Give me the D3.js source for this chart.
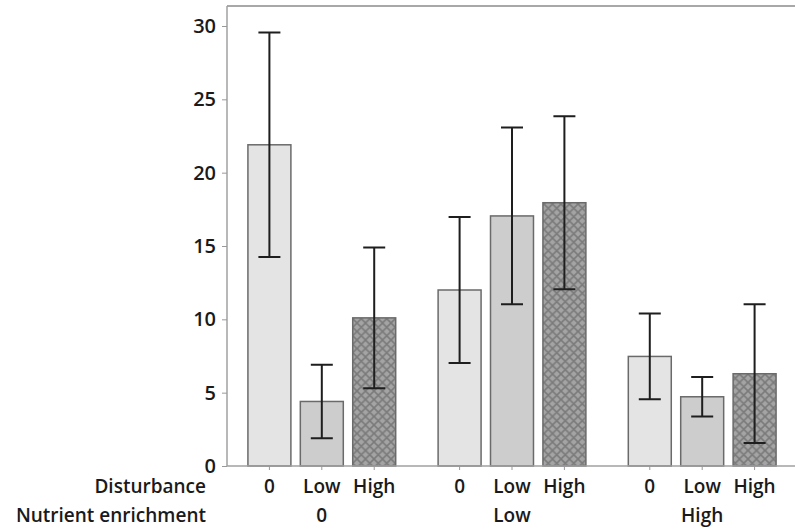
<!DOCTYPE html>
<html>
<head>
<meta charset="utf-8">
<script src="https://cdn.jsdelivr.net/npm/d3@7"></script>
<style>
  html, body { margin: 0; padding: 0; background: #fff; }
  svg { display: block; }
  text { font-family: "Open Sans", "Noto Sans", sans-serif; fill: #1a1a1a; }
</style>
</head>
<body>
<svg id="chart" width="795" height="531"></svg>
<script>
// Nutrient enrichment levels (outer groups) and disturbance levels (bars within a group)
const nutrientLevels = ["0", "Low", "High"];
const disturbanceLevels = ["0", "Low", "High"];

// Mean response per nutrient group, ordered by disturbance level
const meanNutrient0 = [21.9, 4.4, 10.1];
const meanNutrientLow = [12.0, 17.05, 17.95];
const meanNutrientHigh = [7.47, 4.72, 6.29];

// Half-widths of the error bars, same ordering
const errNutrient0 = [7.65, 2.5, 4.8];
const errNutrientLow = [4.97, 6.03, 5.9];
const errNutrientHigh = [2.92, 1.35, 4.73];

const yTicks = [0, 5, 10, 15, 20, 25, 30];

const means = [meanNutrient0, meanNutrientLow, meanNutrientHigh];
const errs = [errNutrient0, errNutrientLow, errNutrientHigh];
const rows = [];
nutrientLevels.forEach((n, i) => {
  disturbanceLevels.forEach((d, j) => {
    rows.push({ nutrient: n, disturbance: d, mean: means[i][j], err: errs[i][j] });
  });
});

const svg = d3.select("#chart");
const plotLeft = 227, plotRight = 797, plotTop = 6, plotBottom = 466;

const y = d3.scaleLinear().domain([0, 30]).range([plotBottom, 26]);
const x0 = d3.scaleBand().domain(nutrientLevels).range([plotLeft, plotRight])
  .paddingInner(0.223).paddingOuter(0.11);
const x1 = d3.scaleBand().domain(disturbanceLevels).range([0, x0.bandwidth()])
  .paddingInner(0.18).paddingOuter(0);

// Cross-hatch pattern for the high disturbance bars
const defs = svg.append("defs");
const hatch = defs.append("pattern")
  .attr("id", "hatch").attr("patternUnits", "userSpaceOnUse")
  .attr("width", 8.5).attr("height", 8.5);
hatch.append("rect").attr("width", 8.5).attr("height", 8.5).attr("fill", "#a4a4a4");
hatch.append("path").attr("d", "M0,0 L8.5,8.5 M8.5,0 L0,8.5 M-1,7.5 L1,9.5 M7.5,-1 L9.5,1")
  .attr("stroke", "#7a7a7a").attr("stroke-width", 1.6).attr("fill", "none");

const fills = { "0": "#e4e4e4", "Low": "#cdcdcd", "High": "url(#hatch)" };

// Frame: top border and y axis line
svg.append("line").attr("x1", plotLeft).attr("x2", 795).attr("y1", plotTop).attr("y2", plotTop)
  .attr("stroke", "#a8a8a8").attr("stroke-width", 2);

const yAxis = d3.axisLeft(y).tickValues(yTicks).tickSize(5).tickPadding(6);
const gy = svg.append("g").attr("transform", `translate(${plotLeft},0)`).call(yAxis);
gy.select(".domain").attr("d", `M0,${plotTop}V${plotBottom}`).attr("stroke", "#a0a0a0").attr("stroke-width", 1.5);
gy.selectAll(".tick line").attr("stroke", "#999");
gy.selectAll(".tick text").attr("font-size", 20).attr("font-weight", 600)
  .style("font-family", '"Open Sans", sans-serif').attr("fill", "#1a1a1a");

// Bars
const bars = svg.append("g");
bars.selectAll("rect").data(rows).join("rect")
  .attr("x", d => x0(d.nutrient) + x1(d.disturbance))
  .attr("width", x1.bandwidth())
  .attr("y", d => y(d.mean))
  .attr("height", d => y(0) - y(d.mean))
  .attr("fill", d => fills[d.disturbance])
  .attr("stroke", "#6a6a6a").attr("stroke-width", 1.5);

// Bottom axis line with ticks at bar centres
svg.append("line").attr("x1", plotLeft).attr("x2", 795).attr("y1", plotBottom).attr("y2", plotBottom)
  .attr("stroke", "#a0a0a0").attr("stroke-width", 1.5);
const cx = d => x0(d.nutrient) + x1(d.disturbance) + x1.bandwidth() / 2;
svg.append("g").selectAll("line").data(rows).join("line")
  .attr("x1", cx).attr("x2", cx).attr("y1", plotBottom).attr("y2", plotBottom + 4)
  .attr("stroke", "#999").attr("stroke-width", 1);

// Error bars
const capHalf = 11;
const eb = svg.append("g").attr("stroke", "#1e1e1e").attr("stroke-width", 2);
eb.selectAll("path").data(rows).join("path")
  .attr("fill", "none")
  .attr("d", d => {
    const c = cx(d), hi = y(d.mean + d.err), lo = y(d.mean - d.err);
    return `M${c},${hi}V${lo}M${c - capHalf},${hi}H${c + capHalf}M${c - capHalf},${lo}H${c + capHalf}`;
  });

// Category labels
const labelSize = 19;
const labelWeight = 600;
svg.append("text").attr("x", 206).attr("y", 493).attr("text-anchor", "end")
  .attr("font-size", labelSize).attr("font-weight", labelWeight).text("Disturbance");
svg.append("text").attr("x", 206).attr("y", 522).attr("text-anchor", "end")
  .attr("font-size", labelSize).attr("font-weight", labelWeight).text("Nutrient enrichment");

svg.append("g").selectAll("text").data(rows).join("text")
  .attr("x", cx).attr("y", 493).attr("text-anchor", "middle")
  .attr("font-size", labelSize).attr("font-weight", labelWeight).text(d => d.disturbance);

svg.append("g").selectAll("text").data(nutrientLevels).join("text")
  .attr("x", d => x0(d) + x0.bandwidth() / 2).attr("y", 522).attr("text-anchor", "middle")
  .attr("font-size", labelSize).attr("font-weight", labelWeight).text(d => d);
</script>
</body>
</html>
